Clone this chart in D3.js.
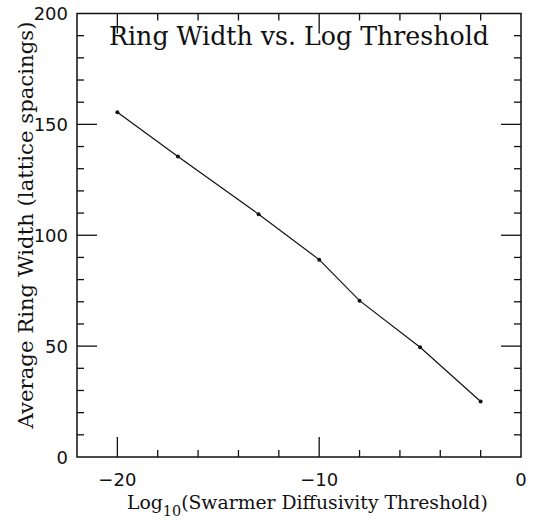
<!DOCTYPE html>
<html><head><meta charset="utf-8">
<script src="https://cdn.jsdelivr.net/npm/d3@7"></script>
<style>body{margin:0;background:#fff}svg{display:block}</style>
</head><body>
<svg id="c" width="538" height="521"></svg>
<script>
const thresholds = [-20, -17, -13, -10, -8, -5, -2];
const ringWidths = [155.5, 135.5, 109.5, 89, 70.5, 49.5, 25];
const xMajorTicks = [-20, -10, 0];
const yMajorTicks = [0, 50, 100, 150, 200];
const titleText = "Ring Width vs. Log Threshold";
const yLabelText = "Average Ring Width (lattice spacings)";

const svg = d3.select("#c");
const L = 77, R = 521, T = 13.5, B = 457;
const x = d3.scaleLinear().domain([-22, 0]).range([L, R]);
const y = d3.scaleLinear().domain([0, 200]).range([B, T]);
const ink = "#111";
const sans = "DejaVu Sans, sans-serif";
const serif = "DejaVu Serif, serif";

// frame
svg.append("rect").attr("x", L).attr("y", T).attr("width", R - L).attr("height", B - T)
  .attr("fill", "none").attr("stroke", ink).attr("stroke-width", 1.5);

const xMinor = d3.range(-22, 0.01, 2).filter(v => v > -22 && v < 0);
const yMinor = d3.range(0, 200.01, 10).filter(v => v > 0 && v < 200);
const big = 20, small = 7;
const tg = svg.append("g").attr("stroke", ink).attr("stroke-width", 1.3);
xMinor.forEach(v => {
  const len = (v % 10 === 0) ? big : small;
  tg.append("line").attr("x1", x(v)).attr("x2", x(v)).attr("y1", B).attr("y2", B - len);
  tg.append("line").attr("x1", x(v)).attr("x2", x(v)).attr("y1", T).attr("y2", T + len);
});
yMinor.forEach(v => {
  const len = (v % 50 === 0) ? big : small;
  tg.append("line").attr("y1", y(v)).attr("y2", y(v)).attr("x1", L).attr("x2", L + len);
  tg.append("line").attr("y1", y(v)).attr("y2", y(v)).attr("x1", R).attr("x2", R - len);
});

// tick labels
svg.append("g").selectAll("text").data(xMajorTicks).join("text")
  .attr("x", d => x(d)).attr("y", 486).attr("text-anchor", "middle")
  .attr("font-family", sans).attr("font-size", 18).attr("fill", ink)
  .text(d => d < 0 ? "\u2212" + Math.abs(d) : d);
svg.append("g").selectAll("text").data(yMajorTicks).join("text")
  .attr("x", 68).attr("y", d => y(d) + 6.5).attr("text-anchor", "end")
  .attr("font-family", sans).attr("font-size", 18).attr("fill", ink)
  .text(d => d);

function fit(sel, target) {
  const w = sel.node().getComputedTextLength();
  const fs = parseFloat(sel.attr("font-size"));
  sel.attr("font-size", fs * target / w);
}

// title
const title = svg.append("text").attr("x", (L + R) / 2).attr("y", 45).attr("text-anchor", "middle")
  .attr("font-family", serif).attr("font-size", 22).attr("fill", ink).text(titleText);
fit(title, 380);

// y label
const yl = svg.append("text").attr("transform", "translate(33,225) rotate(-90)")
  .attr("text-anchor", "middle").attr("font-family", serif).attr("font-size", 17).attr("fill", ink)
  .text(yLabelText);
fit(yl, 407);

// x label with subscript
const xl = svg.append("text").attr("x", 127).attr("y", 509)
  .attr("font-family", serif).attr("font-size", 17).attr("fill", ink);
xl.append("tspan").text("Log");
xl.append("tspan").attr("font-size", 13).attr("dy", 7).text("10");
xl.append("tspan").attr("dy", -7).text("(Swarmer Diffusivity Threshold)");
{
  const w = xl.node().getComputedTextLength();
  const s = 361 / w;
  xl.attr("font-size", 17 * s);
  xl.select("tspan:nth-child(2)").attr("font-size", 13 * s);
}

// line + points
const pts = thresholds.map((t, i) => [t, ringWidths[i]]);
svg.append("path").datum(pts)
  .attr("d", d3.line().x(d => x(d[0])).y(d => y(d[1])))
  .attr("fill", "none").attr("stroke", ink).attr("stroke-width", 1.2);
svg.append("g").selectAll("circle").data(pts).join("circle")
  .attr("cx", d => x(d[0])).attr("cy", d => y(d[1])).attr("r", 2).attr("fill", ink);
</script>
</body></html>
